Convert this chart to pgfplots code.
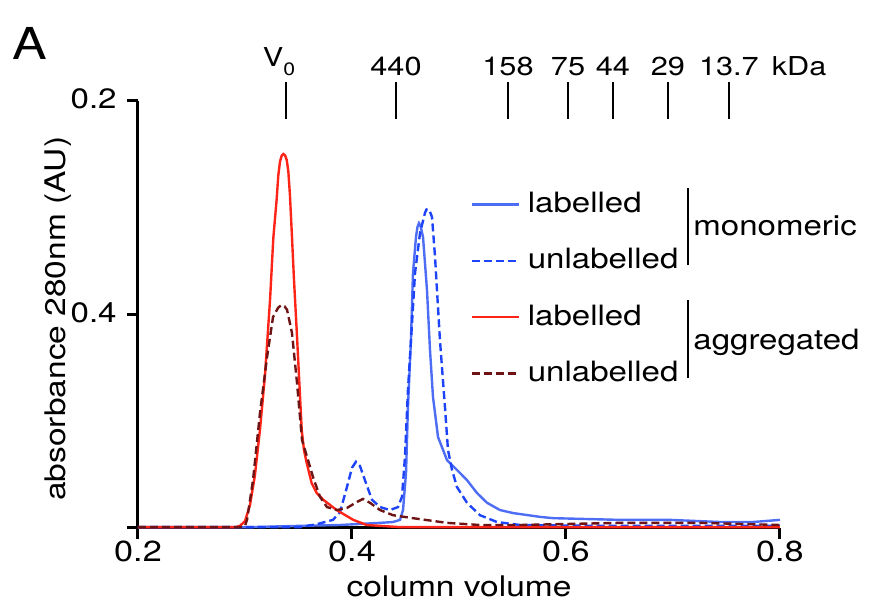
\documentclass[border=0pt]{standalone}
\usepackage{fontspec}
\setmainfont{TeX Gyre Heros}[FakeStretch=1.18]
\usepackage{pgfplots}
\pgfplotsset{compat=1.18}
\definecolor{monolab}{HTML}{4D6DF5}
\definecolor{monounl}{HTML}{1E44FA}
\definecolor{agglab}{HTML}{FF2418}
\definecolor{aggunl}{HTML}{6E1414}

\begin{document}
\begin{tikzpicture}
\path[use as bounding box] (-69pt,-37.5pt) rectangle (365.5pt,264pt);
\node[anchor=base west, inner sep=0, font=\fontsize{22}{24}\selectfont] at (-63pt,234pt) {A};

% elution markers along the top
\begin{axis}[
  scale only axis, width=321pt, height=213.5pt,
  xmin=0.2, xmax=0.8, ymin=0, ymax=1,
  axis x line*=top, axis y line=none,
  x axis line style={draw=none},
  xtick={0.3383,0.4411,0.5458,0.6019,0.6439,0.6953,0.7523},
  xticklabels={{V\raisebox{-4.5pt}{\fontsize{9}{9}\selectfont 0}\hspace*{7pt}},440,158,75,44,29,{13.7\rlap{\hspace{6.5pt}kDa}}},
  tick align=center, major tick length=18.5pt,
  x tick style={black, line width=0.8pt},
  xticklabel style={font=\fontsize{13}{15}\selectfont},
]
\end{axis}

\begin{axis}[
  scale only axis, width=321pt, height=213.5pt,
  xmin=0.2, xmax=0.8, ymin=0, ymax=1,
  axis x line=bottom, axis y line=left,
  axis line style={-, line width=1.5pt},
  tick style={black, line width=1.5pt},
  tick align=outside, major tick length=5.5pt,
  xtick={0.2,0.4,0.6,0.8}, xticklabels={0.2,0.4,0.6,0.8},
  ytick={0,0.5,1}, yticklabels={,0.4,0.2},
  xticklabel style={font=\fontsize{14.5}{16}\selectfont, inner sep=0pt, yshift=-1pt},
  yticklabel style={font=\fontsize{14}{16}\selectfont, inner sep=0pt, xshift=-5pt, yshift=1pt},
  xlabel={column volume}, ylabel={absorbance 280nm (AU)},
  label style={font=\fontsize{14.2}{16}\selectfont},
  xlabel style={at={(axis description cs:0.5,0)}, anchor=north, inner sep=0, yshift=-23.5pt},
  ylabel style={at={(axis description cs:-0.1246,0.49)}, anchor=center, inner sep=0},
  clip=false,
  legend image code/.code={\draw[#1] (0pt,0pt) -- (23.5pt,0pt);},
  legend cell align=left,
  legend style={at={(axis cs:0.5103,0.7916)}, anchor=north west, draw=none, fill=none,
    inner sep=0pt, row sep=14.2pt, column sep=4pt,
    font=\fontsize{14}{16}\selectfont,
    nodes={inner sep=0pt, text height=11pt, text depth=3pt}},
]
\addplot[monolab, line width=1.2pt] coordinates {
(0.2000,0.002) (0.3047,0.002) (0.3514,0.005) (0.3888,0.007) (0.4262,0.012)
(0.4383,0.014) (0.4449,0.019) (0.4477,0.042) (0.4505,0.129) (0.4523,0.283)
(0.4551,0.440) (0.4570,0.597) (0.4598,0.681) (0.4612,0.705) (0.4626,0.714)
(0.4640,0.708) (0.4664,0.681)
(0.4701,0.557) (0.4729,0.417) (0.4757,0.307) (0.4804,0.213) (0.4888,0.159)
(0.4981,0.136) (0.5075,0.112) (0.5168,0.082) (0.5262,0.059) (0.5383,0.042)
(0.5505,0.035) (0.5757,0.026) (0.5879,0.023) (0.6505,0.019) (0.6972,0.019)
(0.7439,0.014) (0.7748,0.014) (0.8000,0.019)};
\addlegendentry{labelled}
\addplot[monounl, line width=1.2pt, dash pattern=on 4pt off 2pt] coordinates {
(0.2000,0.002) (0.3514,0.002) (0.3673,0.009) (0.3822,0.019) (0.3888,0.037)
(0.3953,0.096) (0.4000,0.141) (0.4037,0.155) (0.4075,0.145) (0.4121,0.112)
(0.4187,0.066) (0.4262,0.049) (0.4355,0.042) (0.4430,0.049) (0.4467,0.073)
(0.4495,0.166) (0.4523,0.323) (0.4561,0.480) (0.4589,0.597) (0.4636,0.691)
(0.4682,0.738) (0.4696,0.746) (0.4710,0.747) (0.4724,0.744) (0.4748,0.728)
(0.4776,0.635) (0.4822,0.440)
(0.4869,0.283) (0.4897,0.183) (0.4935,0.136) (0.4981,0.096) (0.5075,0.059)
(0.5196,0.030) (0.5355,0.014) (0.5570,0.007) (0.6318,0.005) (0.8000,0.005)};
\addlegendentry{unlabelled}
\addplot[agglab, line width=1.2pt] coordinates {
(0.2000,0.002) (0.2916,0.002) (0.2953,0.005) (0.3000,0.016) (0.3047,0.054)
(0.3093,0.124) (0.3140,0.230) (0.3187,0.358) (0.3234,0.534) (0.3265,0.680)
(0.3296,0.770) (0.3311,0.825) (0.3327,0.858) (0.3343,0.872) (0.3358,0.876)
(0.3374,0.873) (0.3390,0.862) (0.3405,0.835) (0.3420,0.780) (0.3436,0.698)
(0.3458,0.581) (0.3483,0.464) (0.3508,0.340) (0.3530,0.230) (0.3551,0.183)
(0.3577,0.152) (0.3623,0.105) (0.3670,0.082) (0.3732,0.066) (0.3857,0.042)
(0.4012,0.019) (0.4137,0.007) (0.4449,0.002) (0.8000,0.002)};
\addlegendentry{labelled}
\addplot[aggunl, line width=1.2pt, dash pattern=on 4pt off 2pt] coordinates {
(0.2000,0.002) (0.2953,0.002) (0.3000,0.005) (0.3019,0.019) (0.3075,0.112)
(0.3140,0.269) (0.3206,0.400) (0.3262,0.494) (0.3310,0.516) (0.3340,0.522)
(0.3370,0.519) (0.3393,0.511) (0.3439,0.457) (0.3486,0.340) (0.3533,0.206)
(0.3589,0.159) (0.3636,0.119) (0.3701,0.073) (0.3766,0.049) (0.3860,0.042)
(0.3953,0.047) (0.4047,0.061) (0.4103,0.068) (0.4168,0.059) (0.4262,0.042)
(0.4383,0.030) (0.4570,0.023) (0.4888,0.012) (0.5196,0.007) (0.5570,0.007)
(0.6505,0.012) (0.7252,0.012) (0.8000,0.007)};
\addlegendentry{unlabelled}
% group brackets of the legend
\draw[black, line width=0.8pt] (axis cs:0.714,0.796) -- (axis cs:0.714,0.616);
\draw[black, line width=0.8pt] (axis cs:0.714,0.534) -- (axis cs:0.714,0.351);
\node[anchor=base west, inner sep=0, font=\fontsize{14}{16}\selectfont] at (axis cs:0.7187,0.686) {monomeric};
\node[anchor=base west, inner sep=0, font=\fontsize{14}{16}\selectfont] at (axis cs:0.7187,0.417) {aggregated};
\end{axis}
\end{tikzpicture}
\end{document}
